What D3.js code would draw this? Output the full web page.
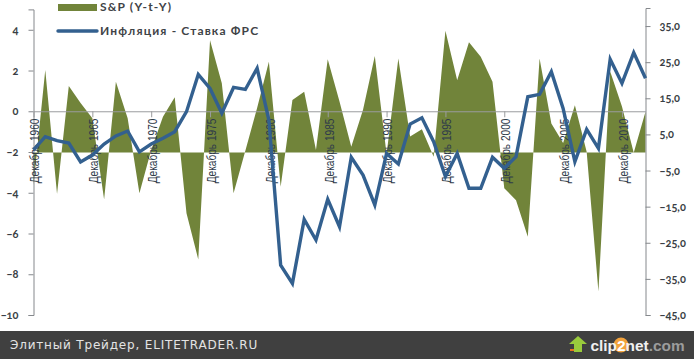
<!DOCTYPE html>
<html>
<head>
<meta charset="utf-8">
<script src="https://cdn.jsdelivr.net/npm/d3@7"></script>
<style>
  html, body { margin: 0; padding: 0; background: #fff; }
  svg { display: block; }
  .val text { font: bold 11px Lato, sans-serif; fill: #3a3f45; font-feature-settings: "onum"; }
  .legend text { font: bold 12px Lato, sans-serif; fill: #3f4347; letter-spacing: 1.15px; }
  .dates text { font: 12.5px "Liberation Sans", sans-serif; fill: #2f3b4a; }
</style>
</head>
<body>
<svg id="chart"></svg>
<script>
const width = 694, height = 359;

// years on the category axis, Dec of each year
const years = d3.range(1960, 2013);
const labelYears = [1960, 1965, 1970, 1975, 1980, 1985, 1990, 1995, 2000, 2005, 2010];
const leftTicks = [4, 2, 0, -2, -4, -6, -8, -10];
const rightTicks = [35, 25, 15, 5, -5, -15, -25, -35, -45];

// S&P year on year, right axis
const spx = [-9, 22.8, -11.5, 18.4, 13.7, 9.5, -13, 19.6, 9.5, -11.3,
  0.7, 9.9, 15.3, -16.8, -29.6, 31.1, 19.2, -11.3, 0.5, 12.3,
  25.1, -9.5, 14.5, 16.8, 0.7, 25.8, 14.1, 1.6, 11.8, 26.7,
  -0.5, 26, 4.4, 6.4, -1.2, 33.7, 20, 30.5, 26.5, 19.6,
  -9.9, -13.2, -23.3, 26, 8, 2.6, 13.1, 0.2, -38.5, 22.4,
  12.7, -0.1, 11.3];

// inflation minus fed rate, left axis
const spread = [-1.90, -1.25, -1.44, -1.56, -2.49, -2.15, -1.61, -1.21, -0.97, -1.99,
  -1.61, -1.32, -1.00, -0.02, 1.81, 1.12, -0.10, 1.17, 1.07, 2.11,
  -0.43, -7.55, -8.45, -5.31, -6.32, -4.32, -5.67, -2.26, -3.13, -4.60,
  -2.07, -2.59, -0.63, -0.32, -1.49, -3.21, -2.07, -3.78, -3.78, -2.26,
  -2.80, -2.23, 0.71, 0.83, 1.94, 0.14, -2.47, -0.89, -1.82, 2.55,
  1.37, 2.88, 1.62];

const svg = d3.select("#chart").attr("width", width).attr("height", height);

const x = d3.scaleLinear().domain([1960, 2012]).range([33.5, 645.5]);
const yLeft = d3.scaleLinear().domain([-10, 5]).range([315, 9.4]);
const yRight = d3.scaleLinear().domain([-45, 40]).range([315, 8]);

// area goes under everything
const area = d3.area()
  .x((d, i) => x(years[i]))
  .y0(yRight(0))
  .y1(d => yRight(d));

svg.append("path")
  .datum(spx)
  .attr("d", area)
  .attr("fill", "#71843a");

// left axis
const axisL = svg.append("g")
  .attr("class", "val")
  .attr("transform", "translate(33.5,0)")
  .call(d3.axisLeft(yLeft).tickValues(leftTicks).tickSize(5).tickSizeOuter(5).tickPadding(10));
axisL.selectAll("line, path").attr("stroke", "#85888c");

// right axis
const axisR = svg.append("g")
  .attr("class", "val")
  .attr("transform", "translate(645.5,0)")
  .call(d3.axisRight(yRight)
    .tickValues(rightTicks)
    .tickSize(5)
    .tickSizeOuter(5)
    .tickPadding(9)
    .tickFormat(d => d3.format(".1f")(d).replace(".", ",")));
axisR.selectAll("line, path").attr("stroke", "#85888c");

// date axis sits at zero of the left scale
const axisX = svg.append("g")
  .attr("class", "dates")
  .attr("transform", `translate(0,${yLeft(0)})`)
  .call(d3.axisBottom(x)
    .tickValues(labelYears)
    .tickSize(6)
    .tickSizeOuter(0)
    .tickFormat(d => "Декабрь " + d));
axisX.selectAll("line, path").attr("stroke", "#9a9c9e");
// labels in the original are a narrow face, squeeze them along the text
axisX.selectAll("text")
  .attr("text-anchor", "end")
  .attr("transform", "rotate(-90) scale(0.81,1)")
  .attr("x", -9)
  .attr("y", 1)
  .attr("dy", "0.35em");

const line = d3.line()
  .x((d, i) => x(years[i]))
  .y(d => yLeft(d));

svg.append("path")
  .datum(spread)
  .attr("d", line)
  .attr("fill", "none")
  .attr("stroke", "#33608f")
  .attr("stroke-width", 3.4)
  .attr("stroke-linejoin", "miter");

// legend
const legend = svg.append("g").attr("class", "legend");
legend.append("rect").attr("x", 58).attr("y", 4).attr("width", 39).attr("height", 7).attr("fill", "#71843a");
legend.append("text").attr("x", 100).attr("y", 11).text("S&P (Y-t-Y)");
legend.append("line").attr("x1", 58).attr("x2", 97).attr("y1", 31).attr("y2", 31)
  .attr("stroke", "#33608f").attr("stroke-width", 3.4).attr("stroke-linecap", "round");
legend.append("text").attr("x", 100).attr("y", 35).text("Инфляция - Ставка ФРС");

// footer band from the screenshot tool
const foot = svg.append("g");
foot.append("rect").attr("x", 0).attr("y", 331).attr("width", width).attr("height", 28).attr("fill", "#404040");
foot.append("text").attr("x", 10).attr("y", 349)
  .attr("font-family", "DejaVu Sans").attr("font-size", 12).attr("letter-spacing", 0.82)
  .attr("fill", "#e4e4e4").text("Элитный Трейдер, ELITETRADER.RU");
foot.append("path").attr("d", "M570 349 h7 v-7 h5 v9 h-12 z").attr("fill", "#e8731c");
foot.append("path").attr("d", "M578 336 l9 8 h-5 v8 h-8 v-8 h-5 z").attr("fill", "#9acb3c");
foot.append("circle").attr("cx", 621).attr("cy", 345).attr("r", 7.5).attr("fill", "#f2a23c");
const logo = foot.append("text").attr("x", 590.5).attr("y", 351)
  .attr("font-family", "Liberation Sans").attr("font-weight", "bold").attr("font-size", 15.4);
logo.append("tspan").attr("fill", "#f0f0f0").text("clip");
logo.append("tspan").attr("fill", "#ffffff").text("2");
logo.append("tspan").attr("fill", "#f0f0f0").text("net");
logo.append("tspan").attr("fill", "#9c9c9c").text(".com");
</script>
</body>
</html>
